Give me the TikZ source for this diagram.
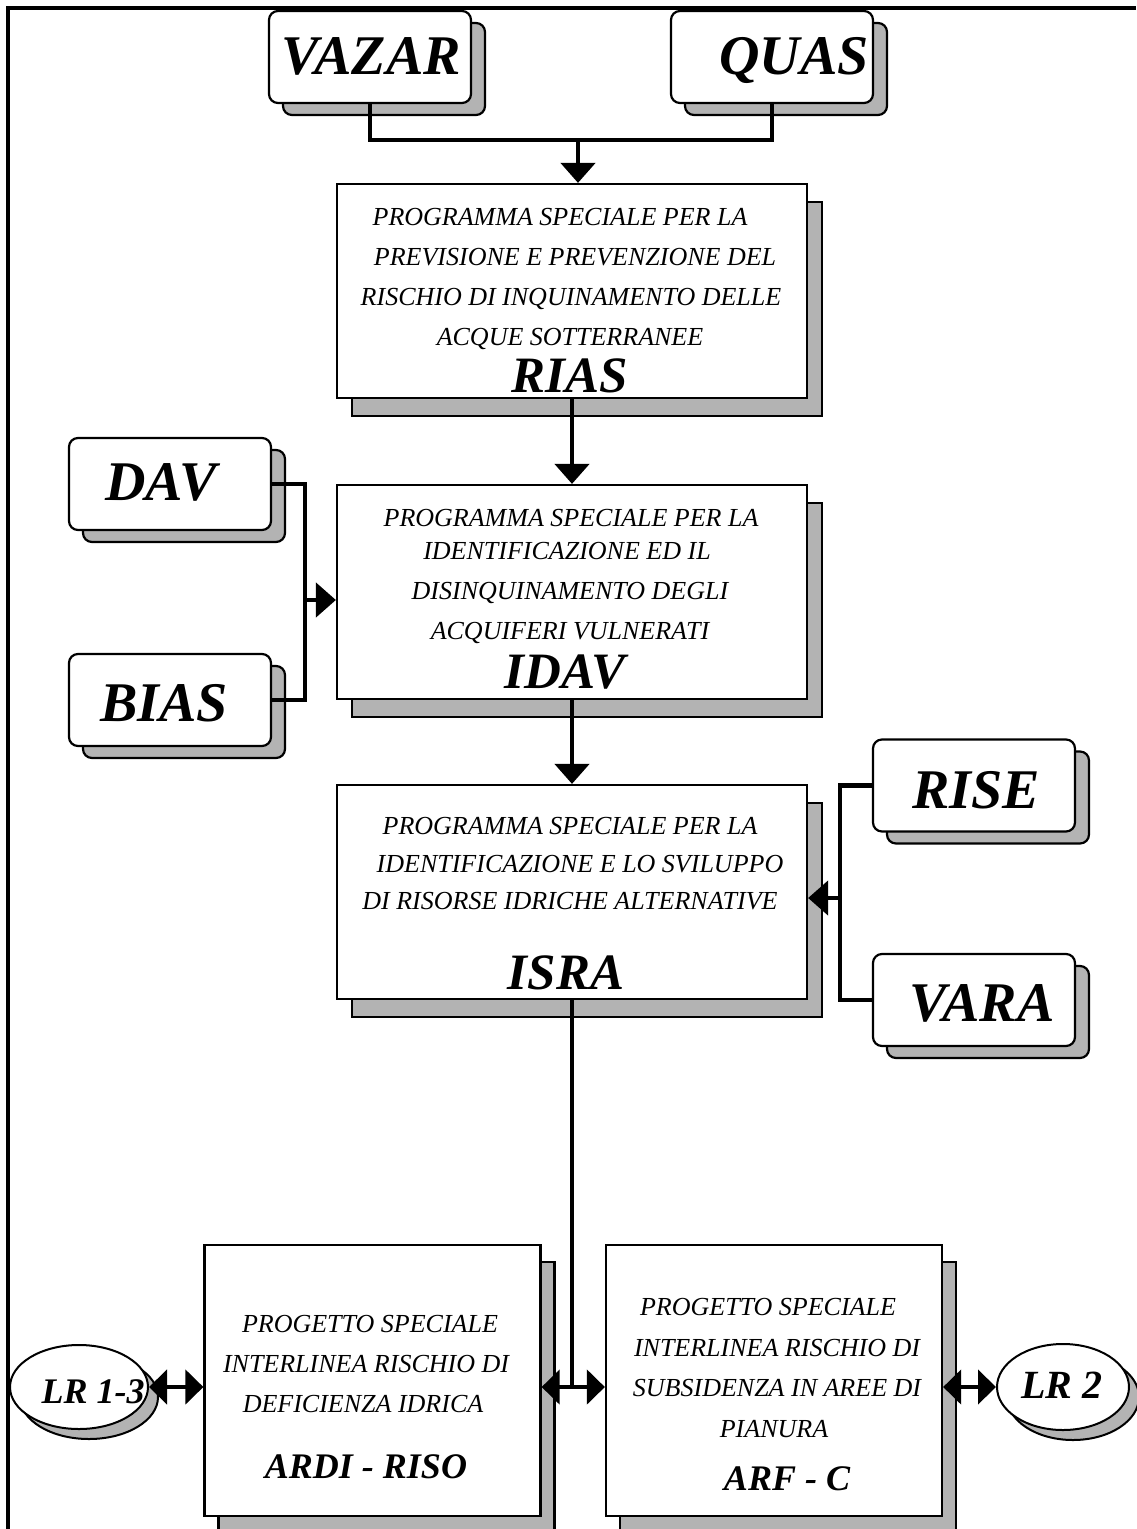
\documentclass[tikz,border=0pt]{standalone}
\usepackage{fontspec}
\setmainfont{Liberation Serif}
\usepackage{tikz}
\usetikzlibrary{arrows.meta, shapes.geometric, shadows}

\begin{document}
\begin{tikzpicture}[x=1pt, y=-1pt,
    caja/.style={draw, fill=white, line width=2.2pt, rounded corners=9pt, inner sep=0pt,
        minimum width=202pt, minimum height=92pt,
        general shadow={fill=grisS, draw=black, shadow xshift=14pt, shadow yshift=-12pt}},
    programa/.style={draw, fill=white, line width=2.2pt, inner sep=0pt,
        minimum width=470pt, minimum height=214pt,
        general shadow={fill=grisS, draw=black, shadow xshift=15pt, shadow yshift=-18pt}},
    proyecto/.style={draw, fill=white, line width=2.2pt, inner sep=0pt,
        minimum width=336pt, minimum height=271pt,
        general shadow={fill=grisS, draw=black, shadow xshift=14pt, shadow yshift=-17pt}},
    lr/.style={ellipse, draw, fill=white, line width=2pt, inner sep=0pt,
        general shadow={fill=grisS, draw=black, shadow xshift=10pt, shadow yshift=-10pt}},
    texto/.style={font=\fontsize{26}{30}\selectfont\itshape, anchor=base, inner sep=0pt},
    sigla/.style={font=\fontsize{#1}{#1}\selectfont\bfseries\itshape, anchor=base, inner sep=0pt},
    linea/.style={line width=4.5pt},
    flecha/.style={line width=4.5pt, -{Triangle[length=20pt, width=34pt]}},
    doble/.style={line width=4.5pt, {Triangle[length=18pt, width=34pt]}-{Triangle[length=18pt, width=34pt]}}]

    % Colores
    \definecolor{grisS}{RGB}{179,179,179}  % sombra

    \useasboundingbox (0,0) rectangle (1136,1529);

    % Marco
    \draw[line width=4pt] (8,1529) -- (8,8) -- (1136,8);

    % Cajas superiores
    \node[caja] (vazar) at (370,57) {};
    \node[caja] (quas) at (772,57) {};
    \node[sigla=56] (tvazar) at (371,74.5) {VAZAR};
    \node[sigla=56] (tquas) at (794,74.5) {QUAS};

    % Programma RIAS
    \node[programa] (rias) at (572,291) {};
    \node[texto] (rias1) at (560,225) {PROGRAMMA SPECIALE PER LA};
    \node[texto] (rias2) at (575,265) {PREVISIONE E PREVENZIONE DEL};
    \node[texto] (rias3) at (571,305) {RISCHIO DI INQUINAMENTO DELLE};
    \node[texto] (rias4) at (570,345) {ACQUE SOTTERRANEE};
    \node[sigla=51] (triass) at (570,392) {RIAS};

    % Cajas a sinistra
    \node[caja] (dav) at (170,484) {};
    \node[caja] (bias) at (170,700) {};
    \node[sigla=56] (tdav) at (161,500) {DAV};
    \node[sigla=56] (tbias) at (164,721) {BIAS};

    % Programma IDAV
    \node[programa] (idav) at (572,592) {};
    \node[texto] (idav1) at (571,526) {PROGRAMMA SPECIALE PER LA};
    \node[texto] (idav2) at (567,559) {IDENTIFICAZIONE ED IL};
    \node[texto] (idav3) at (570,599) {DISINQUINAMENTO DEGLI};
    \node[texto] (idav4) at (570,639) {ACQUIFERI VULNERATI};
    \node[sigla=51] (tidav) at (565,688) {IDAV};

    % Cajas a destra
    \node[caja] (rise) at (974,785.5) {};
    \node[caja] (vara) at (974,1000) {};
    \node[sigla=56] (trise) at (976,808) {RISE};
    \node[sigla=56] (tvara) at (982,1021) {VARA};

    % Programma ISRA
    \node[programa] (isra) at (572,892) {};
    \node[texto] (isra1) at (570,834) {PROGRAMMA SPECIALE PER LA};
    \node[texto] (isra2) at (580,872) {IDENTIFICAZIONE E LO SVILUPPO};
    \node[texto] (isra3) at (570,909) {DI RISORSE IDRICHE ALTERNATIVE};
    \node[sigla=51] (tisra) at (566,989) {ISRA};

    % Progetti speciali
    \node[proyecto] (ardi) at (372.5,1380.5) {};
    \node[texto] (ardi1) at (370,1332) {PROGETTO SPECIALE};
    \node[texto] (ardi2) at (366,1372) {INTERLINEA RISCHIO DI};
    \node[texto] (ardi3) at (363,1412) {DEFICIENZA IDRICA};
    \node[sigla=36] (tardi) at (366,1478) {ARDI - RISO};

    \node[proyecto] (arf) at (774,1380.5) {};
    \node[texto] (arf1) at (768,1315) {PROGETTO SPECIALE};
    \node[texto] (arf2) at (777,1356) {INTERLINEA RISCHIO DI};
    \node[texto] (arf3) at (777,1396) {SUBSIDENZA IN AREE DI};
    \node[texto] (arf4) at (774,1437) {PIANURA};
    \node[sigla=36] (tarf) at (787,1490) {ARF - C};

    % Ellissi
    \node[lr, minimum width=138pt, minimum height=84pt] (lr13) at (79,1387) {};
    \node[lr, minimum width=132pt, minimum height=86pt] (lr2) at (1063,1387) {};
    \node[sigla=36] (tlr13) at (93,1403) {LR 1-3};
    \node[sigla=40] (tlr2) at (1062,1398) {LR 2};

    % Collegamenti
    \coordinate (union) at (578,140);
    \coordinate (unionI) at (305,600);
    \coordinate (unionD) at (840,898);

    \draw[linea] (vazar.south) |- (union) -| (quas.south);
    \draw[flecha] (union) -- (union |- rias.north);
    \draw[flecha] (rias.south) -- (idav.north);

    \draw[linea] (dav.east) -| (unionI) |- (bias.east);
    \draw[flecha] (unionI) -- (unionI -| idav.west);
    \draw[flecha] (idav.south) -- (isra.north);

    \draw[linea] (rise.west) -| (unionD) |- (vara.west);
    \draw[flecha] (unionD) -- (unionD -| isra.east);

    \draw[linea] (isra.south) -- (isra.south |- lr13.east);
    \draw[doble] (ardi.east |- lr13.east) -- (arf.west |- lr13.east);
    \draw[doble] (lr13.east) -- (lr13.east -| ardi.west);
    \draw[doble] (lr2.west -| arf.east) -- (lr2.west);

\end{tikzpicture}
\end{document}
